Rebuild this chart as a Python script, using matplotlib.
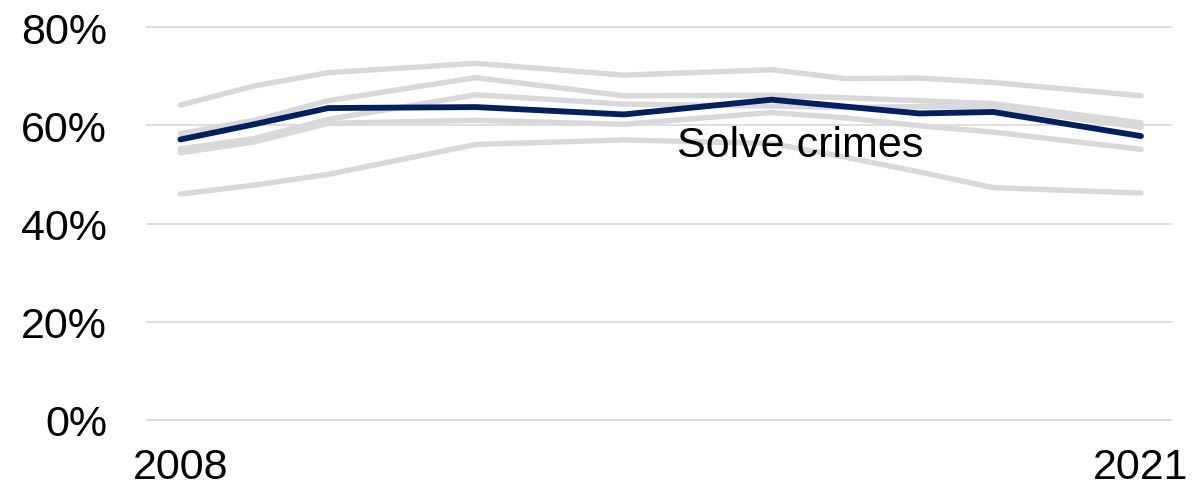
import matplotlib
matplotlib.use("Agg")
import matplotlib.pyplot as plt
from matplotlib.ticker import FixedLocator, FuncFormatter

plt.rcParams['font.family'] = ['Liberation Sans', 'DejaVu Sans']

years = [2008, 2009, 2010, 2012, 2014, 2016, 2017, 2018, 2019, 2021]
solve_crimes = [57.1, 60.2, 63.5, 63.7, 62.2, 65.2, 63.8, 62.4, 62.7, 57.8]
other_a = [64.1, 68.0, 70.7, 72.6, 70.2, 71.3, 69.5, 69.6, 68.7, 66.0]
other_b = [58.3, 61.0, 65.0, 69.7, 66.0, 66.1, 65.6, 65.0, 64.4, 60.5]
other_c = [55.2, 57.3, 61.2, 66.2, 64.3, 63.9, 63.6, 63.8, 63.7, 59.6]
other_d = [54.4, 56.6, 60.4, 61.0, 60.2, 62.6, 61.5, 59.9, 58.6, 55.1]
other_e = [46.0, 47.8, 50.0, 56.1, 57.0, 56.3, 53.5, 50.5, 47.3, 46.2]
others = [other_a, other_b, other_c, other_d, other_e]
y_ticks = [0, 20, 40, 60, 80]
x_ticks = [2008, 2021]
label = "Solve crimes"

W, H = 1197, 489
fig = plt.figure(figsize=(W / 100, H / 100), dpi=100)
px = 393 / 80.0
left, right = 146, 1172
top, bottom = 28 - px, 421 + px
ax = fig.add_axes([left / W, 1 - bottom / H, (right - left) / W, (bottom - top) / H])

for s in others:
    ax.plot(years, s, color='#d9d9d9', lw=3.9, solid_capstyle='round',
            solid_joinstyle='round', zorder=2)
ax.plot(years, solve_crimes, color='#002060', lw=4.2, solid_capstyle='round',
        solid_joinstyle='round', zorder=3)

ax.text(2014.72, 53.75, label, fontsize=31, color='black', ha='left',
        va='baseline', zorder=4)

ax.set_xlim(2007.535, 2021.42)
ax.set_ylim(-1, 81)
ax.yaxis.set_major_locator(FixedLocator(y_ticks))
ax.yaxis.set_major_formatter(FuncFormatter(lambda v, p: f"{int(v)}%"))
ax.xaxis.set_major_locator(FixedLocator(x_ticks))
ax.grid(axis='y', color='#d9d9d9', lw=1.2, zorder=1)
ax.grid(axis='x', visible=False)
for sp in ax.spines.values():
    sp.set_visible(False)
ax.tick_params(axis='y', length=0, pad=28, labelsize=31)
ax.tick_params(axis='x', length=0, pad=16, labelsize=31)

fig.savefig("out.png", dpi=100)
